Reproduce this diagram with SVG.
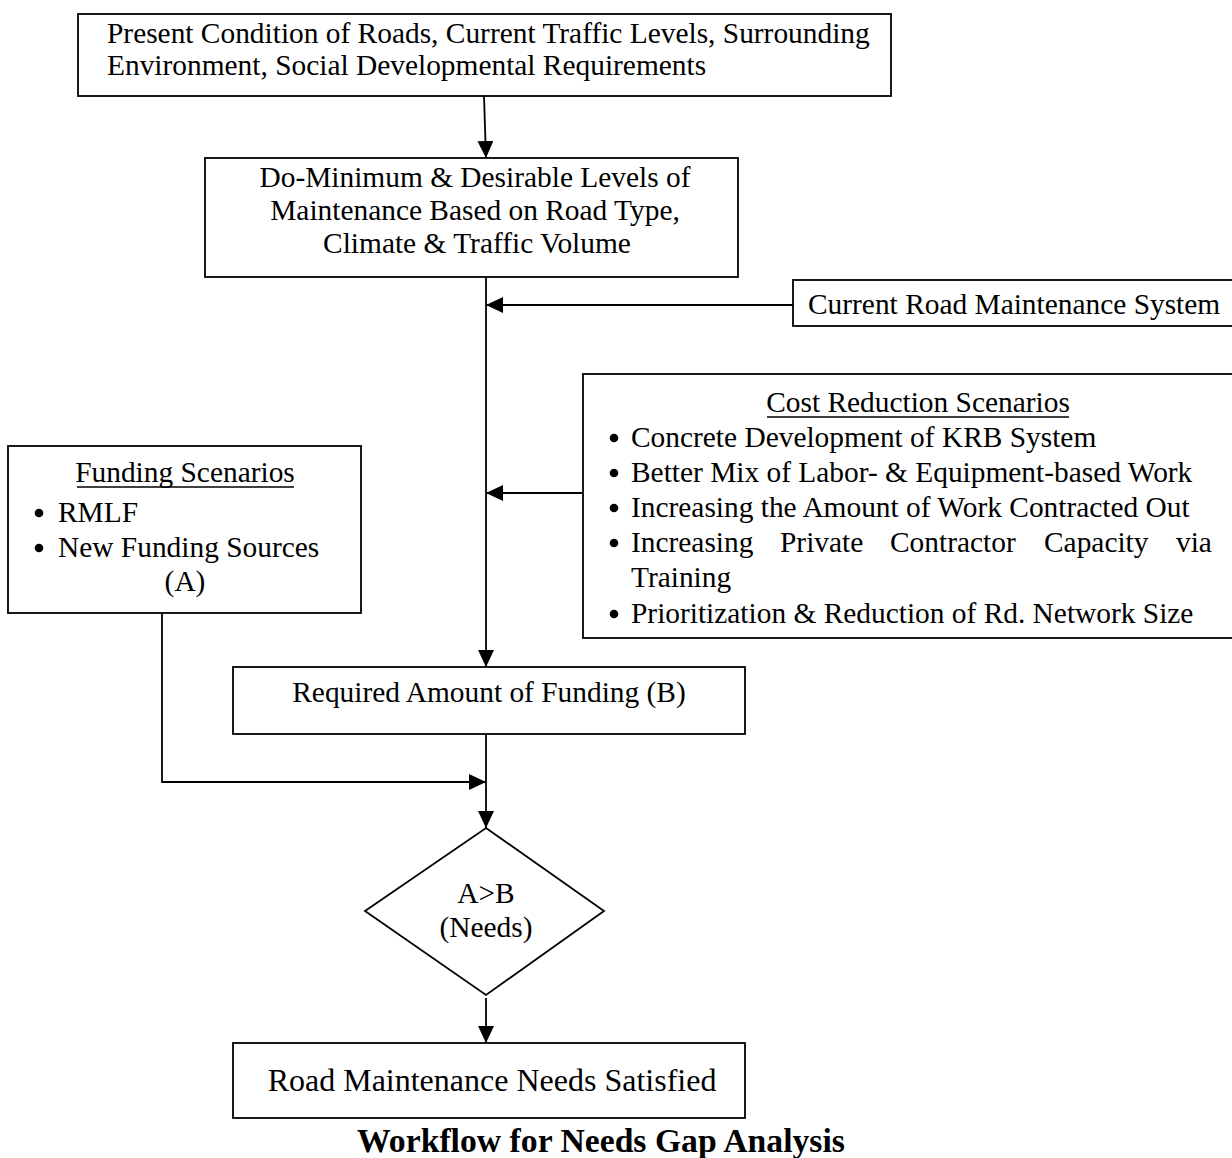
<svg xmlns="http://www.w3.org/2000/svg" width="1232" height="1158" viewBox="0 0 1232 1158">
  <style>
    .box { fill: #fff; stroke: #000; stroke-width: 1.8; }
    .t { font-family: "Liberation Serif", "Times New Roman", serif; font-size: 29.4px; fill: #000; }
    .c { text-anchor: middle; }
    .big { font-size: 32px; }
    .title { font-size: 33.7px; font-weight: bold; }
    .wire { fill: none; stroke: #000; stroke-width: 1.8; }
    .ul { stroke: #000; stroke-width: 1.5; }
    .dot { fill: #000; }
  </style>
  <defs>
    <marker id="arrow" markerUnits="userSpaceOnUse" markerWidth="18" markerHeight="16" refX="17" refY="8" orient="auto">
      <path d="M0,0 L17,8 L0,16 Z" fill="#000"/>
    </marker>
  </defs>
  <rect width="1232" height="1158" fill="#fff"/>

  <g id="connectors">
    <path class="wire" d="M484,96 L486,158" marker-end="url(#arrow)"/>
    <path class="wire" d="M486,277 L486,667" marker-end="url(#arrow)"/>
    <path class="wire" d="M793,305 L486,305" marker-end="url(#arrow)"/>
    <path class="wire" d="M583,493 L486,493" marker-end="url(#arrow)"/>
    <path class="wire" d="M162,613 L162,782 L486,782" marker-end="url(#arrow)"/>
    <path class="wire" d="M486,734 L486,828" marker-end="url(#arrow)"/>
    <path class="wire" d="M486,998 L486,1043" marker-end="url(#arrow)"/>
  </g>

  <g id="inputs">
    <rect class="box" x="78" y="14" width="813" height="82"/>
    <text class="t" x="107" y="42.5">Present Condition of Roads, Current Traffic Levels, Surrounding</text>
    <text class="t" x="107" y="75">Environment, Social Developmental Requirements</text>
  </g>

  <g id="levels">
    <rect class="box" x="205" y="158" width="533" height="119"/>
    <text class="t c" x="475" y="187">Do-Minimum &amp; Desirable Levels of</text>
    <text class="t c" x="475" y="220">Maintenance Based on Road Type,</text>
    <text class="t c" x="477" y="253">Climate &amp; Traffic Volume</text>
  </g>

  <g id="current-system">
    <rect class="box" x="793" y="280" width="445" height="46"/>
    <text class="t" x="808" y="314">Current Road Maintenance System</text>
  </g>

  <g id="cost-reduction">
    <rect class="box" x="583" y="374" width="655" height="264"/>
    <text class="t c" x="918" y="412">Cost Reduction Scenarios</text>
    <line class="ul" x1="767" y1="417" x2="1069" y2="417"/>
    <circle class="dot" cx="614" cy="438" r="4.3"/>
    <text class="t" x="631" y="447">Concrete Development of KRB System</text>
    <circle class="dot" cx="614" cy="473" r="4.3"/>
    <text class="t" x="631" y="482">Better Mix of Labor- &amp; Equipment-based Work</text>
    <circle class="dot" cx="614" cy="508" r="4.3"/>
    <text class="t" x="631" y="517">Increasing the Amount of Work Contracted Out</text>
    <circle class="dot" cx="614" cy="543" r="4.3"/>
    <text class="t" y="552"><tspan x="631">Increasing</tspan><tspan x="780">Private</tspan><tspan x="890">Contractor</tspan><tspan x="1044">Capacity</tspan><tspan x="1176">via</tspan></text>
    <text class="t" x="631" y="587">Training</text>
    <circle class="dot" cx="614" cy="614" r="4.3"/>
    <text class="t" x="631" y="623">Prioritization &amp; Reduction of Rd. Network Size</text>
  </g>

  <g id="funding">
    <rect class="box" x="8" y="446" width="353" height="167"/>
    <text class="t c" x="185" y="482">Funding Scenarios</text>
    <line class="ul" x1="77" y1="487" x2="294" y2="487"/>
    <circle class="dot" cx="39" cy="513" r="4.3"/>
    <text class="t" x="58" y="522">RMLF</text>
    <circle class="dot" cx="39" cy="548" r="4.3"/>
    <text class="t" x="58" y="557">New Funding Sources</text>
    <text class="t c" x="185" y="591">(A)</text>
  </g>

  <g id="required">
    <rect class="box" x="233" y="667" width="512" height="67"/>
    <text class="t c" x="489" y="702">Required Amount of Funding (B)</text>
  </g>

  <g id="decision">
    <polygon class="box" points="486,828 604,911 486,995 365,911"/>
    <text class="t c" x="486" y="903">A&gt;B</text>
    <text class="t c" x="486" y="937">(Needs)</text>
  </g>

  <g id="satisfied">
    <rect class="box" x="233" y="1043" width="512" height="75"/>
    <text class="t c big" x="492" y="1091">Road Maintenance Needs Satisfied</text>
  </g>

  <text class="t c title" x="601" y="1152">Workflow for Needs Gap Analysis</text>
</svg>
